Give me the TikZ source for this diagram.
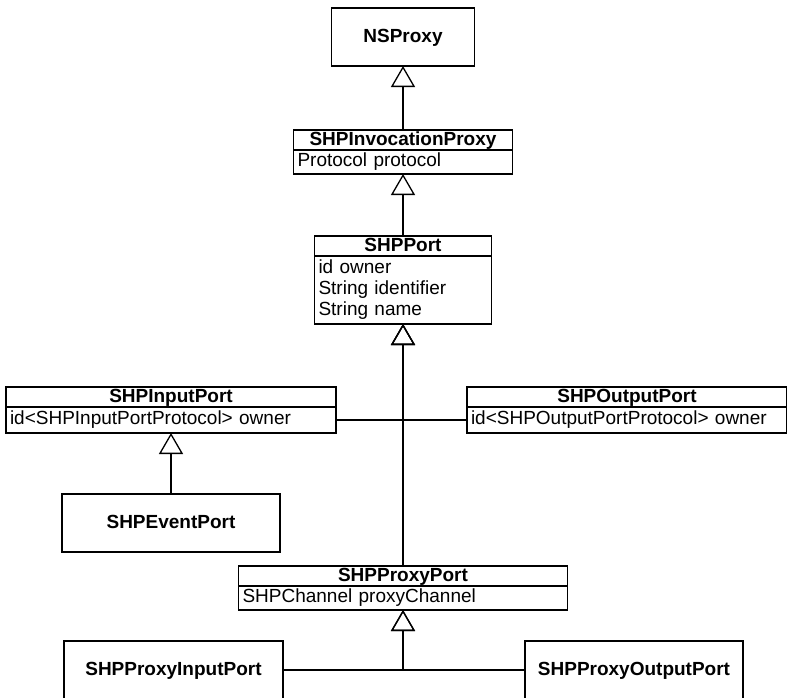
\documentclass[tikz,border=0pt]{standalone}
\usepackage{fontspec}
\setmainfont{Liberation Sans}
\usepackage{tikz}
\usetikzlibrary{arrows.meta, positioning}

\begin{document}
\begin{tikzpicture}[x=1pt, y=-1pt, line width=1.3pt, node distance=0pt,
        cls/.style={draw, inner sep=0pt, outer sep=0pt, minimum height=58pt,
            text height=14pt, text depth=4pt, font=\fontsize{19}{21}\selectfont\bfseries},
        head/.style={draw, inner sep=0pt, outer sep=0pt, minimum height=20pt, anchor=north,
            text height=14pt, text depth=4pt, font=\fontsize{19}{21}\selectfont\bfseries},
        attr/.style={draw, inner xsep=4pt, inner ysep=0pt, outer sep=0pt, text width=#1,
            align=left, minimum height=24pt, font=\fontsize{19}{21}\selectfont},
        inherit/.style={-{Triangle[open, width=24pt, length=21pt]}}]
        \useasboundingbox (0,0) rectangle (787,697);

        % Classes
        \node[cls, minimum width=143pt] (nsproxy) at (403,37) {NSProxy};

        \node[head, minimum width=219pt] (invoc) at (403,130) {SHPInvocationProxy};
        \node[attr=211pt, below=of invoc] (invocb) {Protocol protocol};

        \node[head, minimum width=177pt] (port) at (403,236) {SHPPort};
        \node[attr=169pt, minimum height=68pt, below=of port] (portb)
            {id owner\\String identifier\\String name};

        \node[head, minimum width=330pt] (inport) at (171,387) {SHPInputPort};
        \node[attr=322pt, minimum height=26pt, below=of inport] (inportb)
            {id<SHPInputPortProtocol> owner};

        \node[head, minimum width=320pt] (outport) at (627,387) {SHPOutputPort};
        \node[attr=312pt, minimum height=26pt, below=of outport] (outportb)
            {id<SHPOutputPortProtocol> owner};

        \node[cls, minimum width=218pt] (event) at (171,523) {SHPEventPort};

        \node[head, minimum width=329pt] (proxy) at (403,566) {SHPProxyPort};
        \node[attr=321pt, below=of proxy] (proxyb) {SHPChannel proxyChannel};

        \node[cls, minimum width=219pt] (pin) at (173.5,670) {SHPProxyInputPort};
        \node[cls, minimum width=218pt] (pout) at (634,670) {SHPProxyOutputPort};

        % Inheritance
        \draw[inherit] (invoc.north) -- (nsproxy.south);
        \draw[inherit] (port.north) -- (invocb.south);
        \draw[inherit] (inportb.east) -| (portb.south);
        \draw[inherit] (outportb.west) -| (portb.south);
        \draw[inherit] (proxy.north) -- (portb.south);
        \draw[inherit] (event.north) -- (inportb.south);
        \draw[inherit] (pin.east) -| (proxyb.south);
        \draw[inherit] (pout.west) -| (proxyb.south);
    \end{tikzpicture}
\end{document}
